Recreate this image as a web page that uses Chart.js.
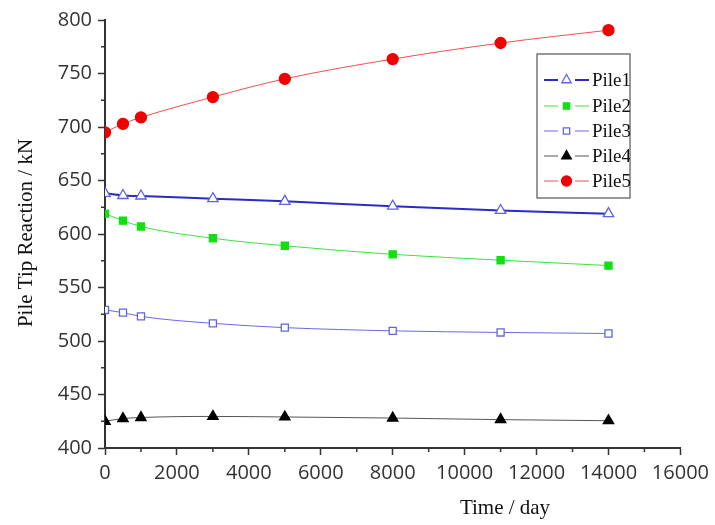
<!DOCTYPE html>
<html>
<head>
<meta charset="utf-8">
<script src="https://cdn.jsdelivr.net/npm/chart.js@4.4.0/dist/chart.umd.min.js"></script>
<style>
  html, body { margin: 0; padding: 0; background: #fff; }
  #wrap { width: 715px; height: 525px; position: relative; }
</style>
</head>
<body>
<div id="wrap"><canvas id="pileChart"></canvas></div>
<script>
const days = [0, 500, 1000, 3000, 5000, 8000, 11000, 14000];
const pile1 = [638, 636, 635.5, 633, 630.5, 626, 622, 619];
const pile2 = [619, 612.5, 607, 596, 589, 581, 575.5, 570.5];
const pile3 = [529, 526.5, 523, 516.5, 512.5, 509.5, 508, 507];
const pile4 = [425, 427.5, 428.5, 429.5, 429, 428, 426.5, 425.5];
const pile5 = [695, 703, 709, 728, 745, 763.5, 778.5, 790.5];
const seriesNames = ["Pile1", "Pile2", "Pile3", "Pile4", "Pile5"];
const xTicks = [0, 2000, 4000, 6000, 8000, 10000, 12000, 14000, 16000];
const yTicks = [400, 450, 500, 550, 600, 650, 700, 750, 800];

const tickFont = "'Open Sans', 'DejaVu Sans', sans-serif";
const titleFont = "'Liberation Serif', 'Times New Roman', serif";

function toPoints(vals) {
  return vals.map((v, i) => ({ x: days[i], y: v }));
}

const styles = [
  { line: "#2b2bc8", fill: "#ffffff", edge: "#6262e6", shape: "triangle", width: 2, radius: 6 },
  { line: "#40e040", fill: "#10e010", edge: "#10e010", shape: "rect", width: 1, radius: 5 },
  { line: "#6a6ae0", fill: "#ffffff", edge: "#6464e0", shape: "rect", width: 1, radius: 5 },
  { line: "#555555", fill: "#000000", edge: "#000000", shape: "triangle", width: 1, radius: 6 },
  { line: "#f05050", fill: "#f00000", edge: "#f00000", shape: "circle", width: 1, radius: 5.5 },
];

const allSeries = [pile1, pile2, pile3, pile4, pile5];

const datasets = allSeries.map((vals, i) => ({
  label: seriesNames[i],
  data: toPoints(vals),
  borderColor: styles[i].line,
  borderWidth: styles[i].width,
  pointStyle: styles[i].shape,
  pointRadius: styles[i].radius,
  pointBackgroundColor: styles[i].fill,
  pointBorderColor: styles[i].edge,
  pointBorderWidth: 1.3,
  tension: 0.3,
  cubicInterpolationMode: "monotone",
}));

// minor ticks, axis titles and the boxed legend
const decorPlugin = {
  id: "decor",
  afterDraw(chart) {
    const ctx = chart.ctx;
    const xs = chart.scales.x, ys = chart.scales.y;
    ctx.save();
    ctx.strokeStyle = "#333";
    ctx.lineWidth = 1.5;
    for (let v = 1000; v < 16000; v += 2000) {
      const px = xs.getPixelForValue(v);
      ctx.beginPath();
      ctx.moveTo(px, ys.bottom);
      ctx.lineTo(px, ys.bottom + 4);
      ctx.stroke();
    }
    for (let v = 425; v < 800; v += 50) {
      const py = ys.getPixelForValue(v);
      ctx.beginPath();
      ctx.moveTo(xs.left, py);
      ctx.lineTo(xs.left - 4, py);
      ctx.stroke();
    }

    ctx.fillStyle = "#111";
    ctx.font = "21px " + titleFont;
    ctx.textAlign = "center";
    ctx.textBaseline = "middle";
    ctx.fillText("Time / day", 505, 508);
    ctx.save();
    ctx.translate(26, 233);
    ctx.rotate(-Math.PI / 2);
    ctx.fillText("Pile Tip Reaction / kN", 0, 0);
    ctx.restore();

    // legend
    const lx = 537, ly = 54, lw = 93, lh = 144;
    ctx.strokeStyle = "#555";
    ctx.lineWidth = 1.2;
    ctx.strokeRect(lx, ly, lw, lh);
    ctx.font = "19px " + titleFont;
    ctx.textAlign = "left";
    const rowY = [80, 106, 131, 156, 181];
    ctx.save();
    ctx.beginPath();
    ctx.rect(lx, ly, lw, lh);
    ctx.clip();
    chart.data.datasets.forEach((ds, i) => {
      const y = rowY[i];
      ctx.strokeStyle = ds.borderColor;
      ctx.lineWidth = ds.borderWidth;
      ctx.beginPath();
      ctx.moveTo(544, y); ctx.lineTo(558, y);
      ctx.moveTo(575, y); ctx.lineTo(589, y);
      ctx.stroke();
      ctx.fillStyle = ds.pointBackgroundColor;
      ctx.strokeStyle = ds.pointBorderColor;
      ctx.lineWidth = 1.3;
      Chart.helpers.drawPoint(ctx, { pointStyle: ds.pointStyle, radius: ds.pointRadius - 0.5, borderWidth: 1.3 }, 566.5, y);
      ctx.fillStyle = "#111";
      ctx.fillText(ds.label, 592, y + 1);
    });
    ctx.restore();
    ctx.restore();
  },
};

new Chart(document.getElementById("pileChart"), {
  type: "line",
  data: { datasets },
  options: {
    responsive: true,
    maintainAspectRatio: false,
    animation: false,
    layout: { padding: { top: 20, right: 33, left: 0, bottom: 0 } },
    plugins: { legend: { display: false }, tooltip: { enabled: false } },
    scales: {
      x: {
        type: "linear",
        min: 0,
        max: 16000,
        afterBuildTicks: (s) => { s.ticks = xTicks.map((v) => ({ value: v })); },
        afterFit: (s) => { s.height = 77; },
        grid: { drawOnChartArea: false, tickLength: 7, tickColor: "#333", tickWidth: 1.5 },
        border: { color: "#333", width: 2 },
        ticks: {
          color: "#333", font: { family: tickFont, size: 20 }, padding: 6,
          maxRotation: 0, autoSkip: false, callback: (v) => String(v),
        },
      },
      y: {
        min: 400,
        max: 800,
        afterBuildTicks: (s) => { s.ticks = yTicks.map((v) => ({ value: v })); },
        afterFit: (s) => { s.width = 105; },
        grid: { drawOnChartArea: false, tickLength: 7, tickColor: "#333", tickWidth: 1.5 },
        border: { color: "#333", width: 2 },
        ticks: { color: "#333", font: { family: tickFont, size: 20 }, padding: 6, callback: (v) => String(v) },
      },
    },
  },
  plugins: [decorPlugin],
});
</script>
</body>
</html>
